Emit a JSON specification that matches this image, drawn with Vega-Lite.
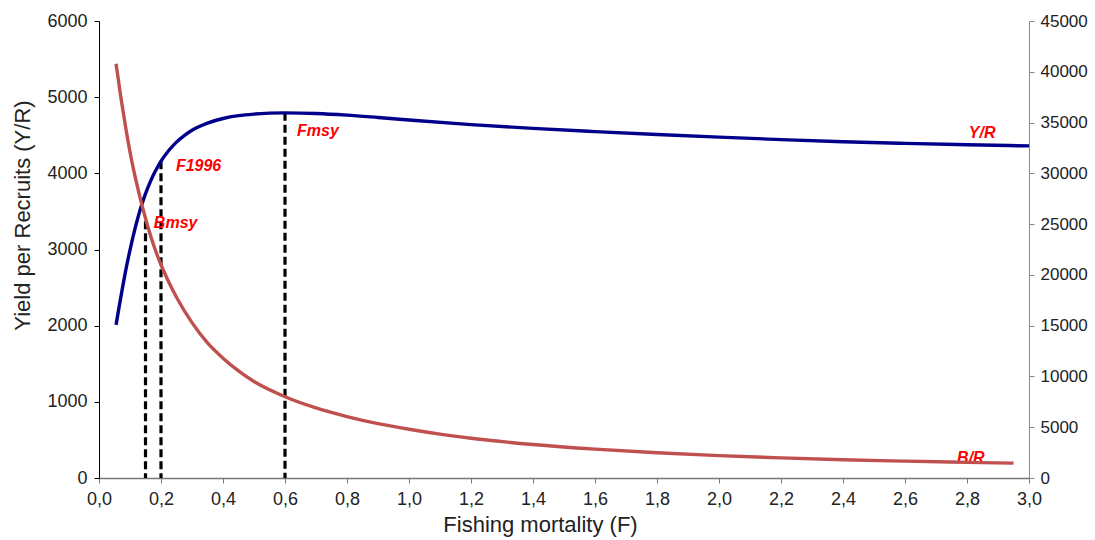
{
  "$schema": "https://vega.github.io/schema/vega-lite/v6.json",
  "width": 930,
  "height": 457,
  "autosize": "none",
  "padding": {"left": 99, "top": 21, "right": 66, "bottom": 62},
  "background": "white",
  "config": {
    "view": {"stroke": null},
    "font": "Liberation Sans",
    "axis": {"grid": false, "labelFont": "Liberation Sans", "titleFont": "Liberation Sans", "titleFontWeight": "normal", "labelColor": "#222222", "titleColor": "#222222"}
  },
  "datasets": {
    "yr": [
      {"F": 0.055, "YR": 2010}, {"F": 0.065, "YR": 2250}, {"F": 0.075, "YR": 2480}, {"F": 0.085, "YR": 2700},
      {"F": 0.095, "YR": 2900}, {"F": 0.105, "YR": 3085}, {"F": 0.115, "YR": 3255}, {"F": 0.125, "YR": 3410},
      {"F": 0.135, "YR": 3550}, {"F": 0.145, "YR": 3675}, {"F": 0.155, "YR": 3785}, {"F": 0.165, "YR": 3885},
      {"F": 0.175, "YR": 3975}, {"F": 0.19, "YR": 4090}, {"F": 0.2, "YR": 4160}, {"F": 0.225, "YR": 4300},
      {"F": 0.25, "YR": 4410}, {"F": 0.275, "YR": 4495}, {"F": 0.3, "YR": 4565}, {"F": 0.35, "YR": 4660},
      {"F": 0.4, "YR": 4720}, {"F": 0.45, "YR": 4757}, {"F": 0.5, "YR": 4778}, {"F": 0.55, "YR": 4790},
      {"F": 0.6, "YR": 4794}, {"F": 0.7, "YR": 4786}, {"F": 0.8, "YR": 4764}, {"F": 0.9, "YR": 4733},
      {"F": 1.0, "YR": 4700}, {"F": 1.2, "YR": 4640}, {"F": 1.4, "YR": 4590}, {"F": 1.6, "YR": 4548},
      {"F": 1.8, "YR": 4510}, {"F": 2.0, "YR": 4475}, {"F": 2.2, "YR": 4443}, {"F": 2.4, "YR": 4415},
      {"F": 2.6, "YR": 4393}, {"F": 2.8, "YR": 4375}, {"F": 3.0, "YR": 4360}
    ],
    "br": [
      {"F": 0.055, "BR": 40800}, {"F": 0.07, "BR": 37600}, {"F": 0.085, "BR": 34700}, {"F": 0.1, "BR": 32100},
      {"F": 0.12, "BR": 29200}, {"F": 0.14, "BR": 26700}, {"F": 0.16, "BR": 24500}, {"F": 0.18, "BR": 22600},
      {"F": 0.2, "BR": 21000}, {"F": 0.225, "BR": 19300}, {"F": 0.25, "BR": 17800}, {"F": 0.3, "BR": 15300},
      {"F": 0.35, "BR": 13300}, {"F": 0.4, "BR": 11800}, {"F": 0.45, "BR": 10550}, {"F": 0.5, "BR": 9500},
      {"F": 0.6, "BR": 8000}, {"F": 0.7, "BR": 6900}, {"F": 0.8, "BR": 6050}, {"F": 0.9, "BR": 5350},
      {"F": 1.0, "BR": 4800}, {"F": 1.1, "BR": 4320}, {"F": 1.2, "BR": 3920}, {"F": 1.4, "BR": 3300},
      {"F": 1.6, "BR": 2840}, {"F": 1.8, "BR": 2480}, {"F": 2.0, "BR": 2200}, {"F": 2.2, "BR": 1980},
      {"F": 2.4, "BR": 1800}, {"F": 2.6, "BR": 1660}, {"F": 2.8, "BR": 1540}, {"F": 2.95, "BR": 1460}
    ],
    "refs": [
      {"F": 0.15, "YR": 3370}, {"F": 0.2, "YR": 4160}, {"F": 0.6, "YR": 4794}
    ],
    "labels": [
      {"F": 0.177, "YR": 3348, "label": "Bmsy"},
      {"F": 0.248, "YR": 4096, "label": "F1996"},
      {"F": 0.639, "YR": 4556, "label": "Fmsy"},
      {"F": 2.806, "YR": 4530, "label": "Y/R"},
      {"F": 2.768, "YR": 263, "label": "B/R"}
    ]
  },
  "layer": [
    {
      "layer": [
        {
          "data": {"name": "refs"},
          "mark": {"type": "rule", "color": "black", "strokeWidth": 3.2, "strokeDash": [8, 4]},
          "encoding": {
            "x": {"field": "F", "type": "quantitative", "title": "Fishing mortality (F)", "scale": {"domain": [0, 3], "nice": false, "zero": false}},
            "y": {"field": "YR", "type": "quantitative", "title": "Yield per Recruits (Y/R)", "scale": {"domain": [0, 6000], "nice": false}},
            "y2": {"datum": 0}
          }
        },
        {
          "data": {"name": "yr"},
          "mark": {"type": "line", "color": "#00008B", "strokeWidth": 3.4, "interpolate": "monotone"},
          "encoding": {
            "x": {
              "field": "F", "type": "quantitative", "title": "Fishing mortality (F)",
              "scale": {"domain": [0, 3], "nice": false, "zero": false},
              "axis": {
                "values": [0, 0.2, 0.4, 0.6, 0.8, 1.0, 1.2, 1.4, 1.6, 1.8, 2.0, 2.2, 2.4, 2.6, 2.8, 3.0],
                "labelExpr": "replace(format(datum.value, '.1f'), '.', ',')",
                "labelFontSize": 18, "labelPadding": 7, "tickSize": 5, "tickColor": "#777777",
                "domainColor": "#777777", "domainWidth": 1.5, "labelFlush": false, "labelOverlap": false,
                "titleFontSize": 22, "titleX": 441, "titleY": 46, "titleAlign": "center", "titleBaseline": "middle", "titleAnchor": null
              }
            },
            "y": {
              "field": "YR", "type": "quantitative", "title": "Yield per Recruits (Y/R)",
              "scale": {"domain": [0, 6000], "nice": false},
              "axis": {
                "orient": "left", "values": [0, 1000, 2000, 3000, 4000, 5000, 6000], "format": "d",
                "labelFontSize": 18, "labelPadding": 7, "tickSize": 5, "tickColor": "#000000",
                "domainColor": "#000000", "domainWidth": 1, "labelFlush": false,
                "titleFontSize": 22, "titleX": -77, "titleY": 194, "titleAngle": 270, "titleAlign": "center", "titleBaseline": "middle", "titleAnchor": null
              }
            }
          }
        },
        {
          "data": {"name": "labels"},
          "mark": {"type": "text", "color": "#FF0000", "fontSize": 16, "fontWeight": "bold", "fontStyle": "italic", "align": "left", "baseline": "middle"},
          "encoding": {
            "x": {"field": "F", "type": "quantitative", "title": "Fishing mortality (F)", "scale": {"domain": [0, 3], "nice": false, "zero": false}},
            "y": {"field": "YR", "type": "quantitative", "title": "Yield per Recruits (Y/R)", "scale": {"domain": [0, 6000], "nice": false}},
            "text": {"field": "label"}
          }
        }
      ]
    },
    {
      "data": {"name": "br"},
      "mark": {"type": "line", "color": "#C0504D", "strokeWidth": 3.4, "interpolate": "monotone"},
      "encoding": {
        "x": {"field": "F", "type": "quantitative", "title": "Fishing mortality (F)", "scale": {"domain": [0, 3], "nice": false, "zero": false}},
        "y": {
          "field": "BR", "type": "quantitative", "title": null,
          "scale": {"domain": [0, 45000], "nice": false},
          "axis": {
            "orient": "right", "values": [0, 5000, 10000, 15000, 20000, 25000, 30000, 35000, 40000, 45000], "format": "d",
            "labelFontSize": 17, "labelPadding": 6, "tickSize": 5, "tickColor": "#888888",
            "domainColor": "#888888", "domainWidth": 1, "labelFlush": false
          }
        }
      }
    }
  ],
  "resolve": {"scale": {"y": "independent"}}
}
